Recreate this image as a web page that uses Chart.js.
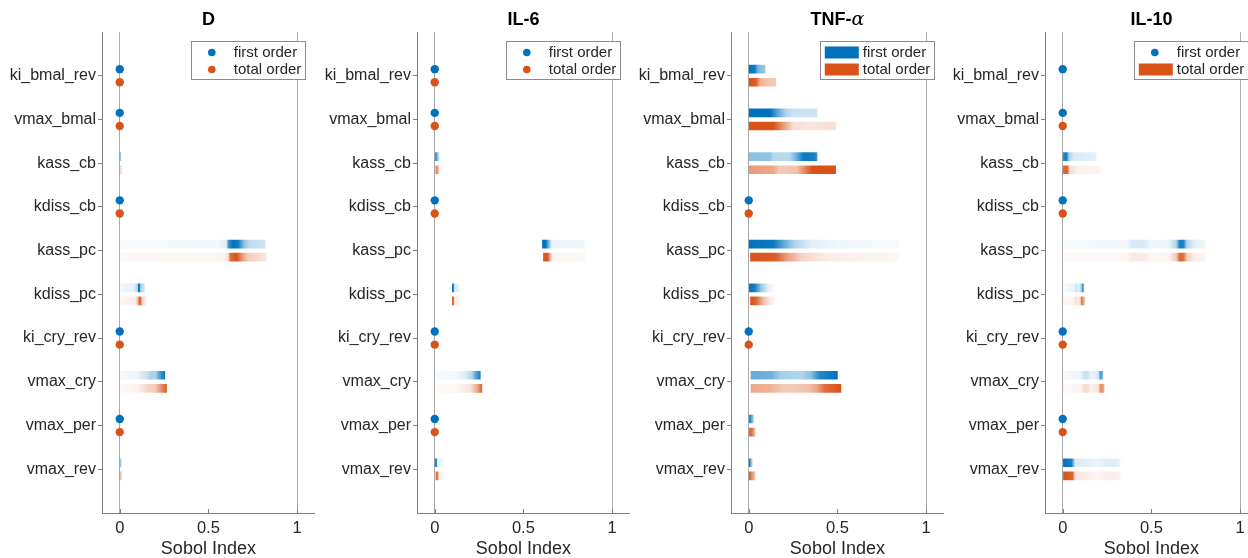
<!DOCTYPE html>
<html>
<head>
<meta charset="utf-8">
<script src="https://cdn.jsdelivr.net/npm/chart.js@4.4.0/dist/chart.umd.min.js"></script>
<style>
    html, body { margin: 0; padding: 0; background: #fff; overflow: hidden; width: 1248px; height: 558px; position: relative; }
    .panel { position: absolute; top: 0; width: 319px; height: 558px; }
</style>
</head>
<body>
<div class="panel" style="left:0px"><canvas id="c0"></canvas></div>
<div class="panel" style="left:315px"><canvas id="c1"></canvas></div>
<div class="panel" style="left:629px"><canvas id="c2"></canvas></div>
<div class="panel" style="left:943px"><canvas id="c3"></canvas></div>
<script>
// Sobol indices per parameter: number = point estimate (dot), null = missing,
// list of [index value, density] = spread of estimates (shaded bar)
const params = ['ki_bmal_rev', 'vmax_bmal', 'kass_cb', 'kdiss_cb', 'kass_pc',
                'kdiss_pc', 'ki_cry_rev', 'vmax_cry', 'vmax_per', 'vmax_rev'];
const panelTitles = ['D', 'IL-6', 'TNF-α', 'IL-10'];
const xTicks = [0, 0.5, 1];
const xTickLabels = ['0', '0.5', '1'];
const legendKinds = [['dot', 'dot'], ['dot', 'dot'], ['bar', 'bar'], ['dot', 'bar']];
const legendLabels = ['first order', 'total order'];

const D_first = [0, 0, [[0, .55], [.006, .4]], 0,
    [[.004, .04], [.55, .05], [.6, .12], [.615, .8], [.64, 1], [.67, .9], [.7, .45], [.73, .25], [.82, .2]],
    [[.004, .05], [.08, .1], [.1, .3], [.105, .95], [.112, .9], [.118, .35], [.13, .25], [.14, .15]],
    0,
    [[.004, .04], [.1, .08], [.15, .2], [.18, .35], [.2, .3], [.22, .6], [.24, .85], [.254, .95]],
    0, [[0, .5], [.008, .3]]];
const D_total = [0, 0, [[.002, .2], [.012, .15]], 0,
    [[.004, .04], [.58, .06], [.61, .15], [.625, .85], [.66, 1], [.69, .6], [.72, .3], [.825, .15]],
    [[.004, .05], [.09, .1], [.105, .5], [.11, .95], [.12, .8], [.125, .3], [.145, .15]],
    0,
    [[.004, .04], [.1, .08], [.16, .25], [.2, .3], [.23, .6], [.25, .8], [.264, .95]],
    0, [[.002, .35], [.01, .3]]];

const IL6_first = [0, 0, [[0, .3], [.006, .9], [.012, .6], [.026, .1]], 0,
    [[.607, .95], [.625, 1], [.64, .6], [.66, .08], [.847, .05]],
    [[.099, .95], [.107, .8], [.112, .15], [.139, .08]],
    0,
    [[.004, .04], [.12, .05], [.17, .12], [.21, .3], [.235, .7], [.257, .9]],
    0, [[.002, .9], [.011, .8], [.016, .1], [.047, .05]]];
const IL6_total = [0, 0, [[.002, .2], [.008, .7], [.015, .6], [.025, .2]], 0,
    [[.613, .95], [.635, 1], [.65, .5], [.665, .06], [.847, .04]],
    [[.099, .95], [.107, .8], [.112, .12], [.139, .06]],
    0,
    [[.004, .04], [.12, .05], [.2, .15], [.24, .5], [.266, .9]],
    0, [[.004, .3], [.008, .9], [.018, .7], [.024, .1], [.047, .05]]];

const TNF_first = [[[0, 1], [.035, .95], [.05, .55], [.07, .45], [.092, .4]],
    [[0, 1], [.12, 1], [.17, .6], [.21, .3], [.25, .2], [.385, .2]],
    [[0, .45], [.12, .42], [.14, .28], [.23, .28], [.26, .5], [.31, .95], [.37, .9], [.385, .75]],
    0,
    [[0, 1], [.14, .95], [.2, .6], [.26, .3], [.35, .12], [.5, .06], [.846, .03]],
    [[.004, 1], [.035, .9], [.07, .4], [.11, .1], [.143, .02]],
    0,
    [[.013, .6], [.13, .55], [.18, .35], [.3, .3], [.35, .45], [.4, .85], [.5, 1]],
    [[0, .6], [.008, .95], [.015, .6], [.026, .4]],
    [[0, .5], [.005, .95], [.012, .5], [.02, .25]]];
const TNF_total = [[[0, 1], [.04, .95], [.065, .45], [.1, .35], [.152, .3]],
    [[0, 1], [.14, 1], [.2, .55], [.25, .2], [.35, .15], [.49, .2]],
    [[0, .6], [.14, .5], [.17, .3], [.27, .35], [.33, .8], [.36, 1], [.49, 1]],
    0,
    [[.01, 1], [.15, .95], [.22, .55], [.3, .25], [.45, .1], [.846, .05]],
    [[.01, 1], [.04, .9], [.08, .4], [.12, .12], [.143, .05]],
    0,
    [[.013, .5], [.12, .45], [.2, .3], [.33, .35], [.38, .5], [.43, .85], [.52, 1]],
    [[0, .5], [.005, .9], [.018, .8], [.036, .35]],
    [[0, .6], [.005, .95], [.015, .7], [.036, .3]]];

const IL10_first = [0, 0, [[0, .8], [.02, .95], [.035, .35], [.06, .15], [.188, .1]], 0,
    [[.008, .04], [.36, .05], [.39, .15], [.46, .15], [.5, .06], [.6, .08], [.64, .3], [.66, .9], [.68, .9], [.7, .3], [.74, .12], [.803, .06]],
    [[.004, .04], [.06, .08], [.075, .2], [.09, .1], [.105, .3], [.11, .8], [.118, .5], [.12, .2]],
    0,
    [[.004, .04], [.1, .08], [.12, .2], [.14, .2], [.16, .08], [.2, .15], [.213, .7], [.226, .5]],
    0,
    [[.004, 1], [.05, .9], [.07, .15], [.2, .08], [.25, .12], [.3, .12], [.323, .08]]];
const IL10_total = [null, 0, [[0, .8], [.025, .95], [.04, .2], [.08, .08], [.21, .06]], 0,
    [[.008, .04], [.36, .04], [.39, .12], [.46, .12], [.5, .05], [.6, .06], [.64, .3], [.66, .9], [.68, .85], [.7, .3], [.74, .1], [.803, .05]],
    [[.004, .04], [.06, .06], [.075, .18], [.09, .08], [.1, .3], [.105, .8], [.115, .6], [.128, .1]],
    0,
    [[.004, .04], [.1, .06], [.12, .2], [.14, .2], [.16, .08], [.2, .15], [.215, .7], [.233, .5]],
    0,
    [[.004, 1], [.055, .9], [.07, .15], [.2, .06], [.25, .1], [.3, .1], [.323, .08]]];

const firstOrder = [D_first, IL6_first, TNF_first, IL10_first];
const totalOrder = [D_total, IL6_total, TNF_total, IL10_total];

const BLUE = '0, 114, 189';
const ORANGE = '217, 83, 25';
const FONT = '"Liberation Sans", Arial, Helvetica, sans-serif';
const TEXT = '#262626';
const AXIS = '#808080';
const OFF = 0.15;   // vertical offset of first/total rows around each parameter

Chart.defaults.font.family = FONT;

function split(entries, dy) {
    const bars = [], dots = [];
    entries.forEach((e, i) => {
        if (e === null) return;
        if (Array.isArray(e)) bars.push({ x: [e[0][0], e[e.length - 1][0]], y: i + 1 + dy, stops: e });
        else dots.push({ x: e, y: i + 1 + dy });
    });
    return { bars, dots };
}

function barFill(ctx, rgb) {
    const item = ctx.raw;
    if (!item || !item.stops) return `rgb(${rgb})`;
    const xs = ctx.chart.scales.x;
    const lo = item.x[0], hi = item.x[1];
    const p0 = xs ? xs.getPixelForValue(lo) : NaN;
    const p1 = xs ? xs.getPixelForValue(hi) : NaN;
    if (!isFinite(p0) || !isFinite(p1) || p1 - p0 < 0.5) return `rgba(${rgb}, ${item.stops[0][1]})`;
    const g = ctx.chart.ctx.createLinearGradient(p0, 0, p1, 0);
    item.stops.forEach(([v, a]) => g.addColorStop((v - lo) / (hi - lo), `rgba(${rgb}, ${a})`));
    return g;
}

const panelDecor = {
    id: 'panelDecor',
    afterDraw(chart, args, opts) {
        const { ctx, chartArea } = chart;
        const xs = chart.scales.x;
        ctx.save();

        // inward x ticks
        ctx.strokeStyle = AXIS;
        ctx.lineWidth = 1;
        xTicks.forEach(v => {
            const px = Math.round(xs.getPixelForValue(v)) + 0.5;
            ctx.beginPath();
            ctx.moveTo(px, chartArea.bottom);
            ctx.lineTo(px, chartArea.bottom - 4);
            ctx.stroke();
        });

        // title, greek letters in italic serif
        const parts = [...opts.title].map(ch => ({
            ch, font: /[α-ω]/.test(ch) ? 'italic 19px "DejaVu Serif", serif' : 'bold 18px ' + FONT
        }));
        let total = 0;
        parts.forEach(p => { ctx.font = p.font; p.w = ctx.measureText(p.ch).width; total += p.w; });
        let tx = (chartArea.left + chartArea.right) / 2 - total / 2;
        ctx.fillStyle = '#000';
        ctx.textBaseline = 'middle';
        ctx.textAlign = 'left';
        parts.forEach(p => { ctx.font = p.font; ctx.fillText(p.ch, tx, 20); tx += p.w; });

        // legend box
        const w = 115, h = 39;
        const right = chartArea.right - 9, left = right - w, top = chartArea.top + 9;
        ctx.fillStyle = '#fff';
        ctx.fillRect(left, top, w, h);
        ctx.strokeStyle = '#8c8c8c';
        ctx.strokeRect(Math.round(left) + 0.5, top + 0.5, w - 1, h - 1);
        ctx.font = '15px ' + FONT;
        opts.kinds.forEach((kind, i) => {
            const y = top + 11.5 + i * 17;
            const rgb = i === 0 ? BLUE : ORANGE;
            ctx.fillStyle = `rgb(${rgb})`;
            if (kind === 'dot') {
                ctx.beginPath();
                ctx.arc(left + 21, y, 3.8, 0, Math.PI * 2);
                ctx.fill();
            } else {
                ctx.fillRect(left + 5, y - 6, 34, 12);
            }
            ctx.fillStyle = TEXT;
            ctx.fillText(legendLabels[i], left + 43, y + 0.5);
        });
        ctx.restore();
    }
};

function makePanel(k) {
    const f = split(firstOrder[k], -OFF);
    const t = split(totalOrder[k], OFF);
    const barSet = (data, rgb) => ({
        type: 'bar', indexAxis: 'y', grouped: false, barThickness: 8,
        data, borderWidth: 0, backgroundColor: ctx => barFill(ctx, rgb)
    });
    const dotSet = (data, rgb) => ({
        type: 'scatter', data, pointRadius: 4.2, pointBorderWidth: 0,
        backgroundColor: `rgb(${rgb})`, borderColor: `rgb(${rgb})`
    });

    const chart = new Chart(document.getElementById('c' + k), {
        type: 'scatter',
        data: {
            datasets: [barSet(f.bars, BLUE), barSet(t.bars, ORANGE), dotSet(f.dots, BLUE), dotSet(t.dots, ORANGE)]
        },
        plugins: [panelDecor],
        options: {
            responsive: true,
            maintainAspectRatio: false,
            animation: false,
            events: [],
            layout: { padding: { top: 32, left: 0, right: 0, bottom: 0 } },
            plugins: {
                legend: { display: false },
                tooltip: { enabled: false },
                panelDecor: { title: panelTitles[k], kinds: legendKinds[k] }
            },
            scales: {
                x: {
                    type: 'linear', min: -0.1, max: 1.1,
                    afterBuildTicks: s => { s.ticks = xTicks.map(v => ({ value: v })); },
                    afterFit: s => { s.height = 45; },
                    ticks: {
                        padding: 6, color: TEXT, font: { size: 16.5 },
                        callback: v => xTickLabels[xTicks.indexOf(v)]
                    },
                    grid: {
                        drawTicks: false, offset: false,
                        color: c => (c.tick && (c.tick.value === 0 || c.tick.value === 1)) ? '#a9a9a9' : 'rgba(0,0,0,0)'
                    },
                    border: { color: AXIS },
                    title: { display: true, text: 'Sobol Index', color: TEXT, font: { size: 18, lineHeight: 1 }, padding: { top: 0, bottom: 0 } }
                },
                y: {
                    type: 'linear', min: 0, max: 11, reverse: true, offset: false,
                    afterBuildTicks: s => { s.ticks = params.map((p, i) => ({ value: i + 1 })); },
                    afterFit: s => { s.width = 102; },
                    ticks: {
                        padding: 2, color: TEXT, font: { size: 16 }, autoSkip: false,
                        callback: v => params[v - 1] || ''
                    },
                    grid: { drawOnChartArea: false, drawTicks: true, tickLength: 4, offset: false, color: AXIS },
                    border: { color: AXIS }
                }
            }
        }
    });
    chart.update();
}

[0, 1, 2, 3].forEach(makePanel);
</script>
</body>
</html>
